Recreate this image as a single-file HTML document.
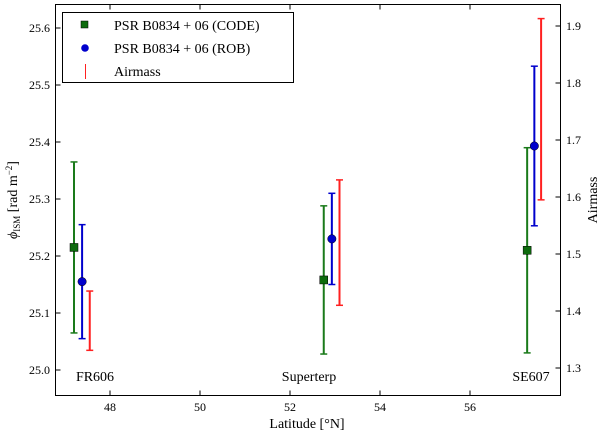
<!DOCTYPE html>
<html><head><meta charset="utf-8"><style>
html,body{margin:0;padding:0;background:#fff;}
svg text{font-family:"Liberation Serif","DejaVu Serif",serif;fill:#000;}
</style></head><body>
<svg id="chart" width="600" height="434" xmlns="http://www.w3.org/2000/svg">
<rect width="600" height="434" fill="#fff"/>
<g id="marks"></g>
<g id="axes"></g>
</svg>
<script>
const stations = ["FR606", "Superterp", "SE607"];
const codeLat = [47.2, 52.75, 57.27];
const codeVal = [25.215, 25.158, 25.21];
const codeErr = [0.15, 0.13, 0.18];
const robLat = [47.38, 52.93, 57.43];
const robVal = [25.155, 25.23, 25.393];
const robErr = [0.1, 0.08, 0.14];
const airLat = [47.55, 53.1, 57.58];
const airVal = [1.383, 1.52, 1.754];
const airErr = [0.052, 0.11, 0.159];
const xTicks = [48, 50, 52, 54, 56];
const yTicks = [25.0, 25.1, 25.2, 25.3, 25.4, 25.5, 25.6];
const y2Ticks = [1.3, 1.4, 1.5, 1.6, 1.7, 1.8, 1.9];

const L=55.5, R=560.5, T=4.5, B=395.5;
const sx = v => 110 + (v-48)*45;
const sy = v => 370 - (v-25.0)*570;
const sy2 = v => 368 - (v-1.3)*570;
const NS="http://www.w3.org/2000/svg";
function mk(tag, attrs, parent, text){
  const e=document.createElementNS(NS,tag);
  for(const k in attrs) e.setAttribute(k, attrs[k]);
  if(text!==undefined) e.textContent=text;
  parent.appendChild(e); return e;
}
const marks=document.getElementById('marks');
const axes=document.getElementById('axes');

function errbar(x, yc, ylo, yhi, color, name){
  const g=mk('g',{},marks);
  
  
  mk('line',{x1:x,x2:x,y1:ylo,y2:yhi,stroke:color,'stroke-width':2},g);
  mk('line',{x1:x-3.5,x2:x+3.5,y1:ylo,y2:ylo,stroke:color,'stroke-width':1.5},g);
  mk('line',{x1:x-3.5,x2:x+3.5,y1:yhi,y2:yhi,stroke:color,'stroke-width':1.5},g);
  return g;
}
for(let i=0;i<stations.length;i++){
  let x=sx(codeLat[i]);
  let g=errbar(x,sy(codeVal[i]),sy(codeVal[i]-codeErr[i]),sy(codeVal[i]+codeErr[i]),'#1a7a1a','code-errorbar-'+i);
  const r=mk('rect',{x:x-4,y:sy(codeVal[i])-4,width:8,height:8,fill:'#0d6b0d',stroke:'#000','stroke-width':0.5},g);
  
  
  x=sx(robLat[i]);
  g=errbar(x,sy(robVal[i]),sy(robVal[i]-robErr[i]),sy(robVal[i]+robErr[i]),'#0000cc','rob-errorbar-'+i);
  const c=mk('circle',{cx:x,cy:sy(robVal[i]),r:4.2,fill:'#0000cc',stroke:'#000','stroke-width':0.5},g);
  
  
  x=sx(airLat[i]);
  errbar(x,sy2(airVal[i]),sy2(airVal[i]-airErr[i]),sy2(airVal[i]+airErr[i]),'#ff2020','airmass-errorbar-'+i);
}
// station labels
const labX=[95, 309, 531];
for(let i=0;i<stations.length;i++){
  const t=mk('text',{x:labX[i],y:381,'font-size':14,'text-anchor':'middle'},axes,stations[i]);
  
  
}
// frame
const fr=mk('rect',{x:L,y:T,width:R-L,height:B-T,fill:'none',stroke:'#000','stroke-width':1},axes);


xTicks.forEach(v=>{
  const x=sx(v);
  mk('line',{x1:x,x2:x,y1:B,y2:B-5,stroke:'#000'},axes);
  mk('line',{x1:x,x2:x,y1:T,y2:T+5,stroke:'#000'},axes);
  const t=mk('text',{x:x,y:411,'font-size':12,'text-anchor':'middle'},axes,String(v));
  
  
});
yTicks.forEach(v=>{
  const y=sy(v);
  mk('line',{x1:L,x2:L+5,y1:y,y2:y,stroke:'#000'},axes);
  const t=mk('text',{x:50,y:y+4,'font-size':12,'text-anchor':'end'},axes,v.toFixed(1));
  
  
});
y2Ticks.forEach(v=>{
  const y=sy2(v);
  mk('line',{x1:R,x2:R-5,y1:y,y2:y,stroke:'#000'},axes);
  const t=mk('text',{x:566,y:y+4,'font-size':12},axes,v.toFixed(1));
  
  
});
</script>
<svg style="position:absolute;left:0;top:0" width="600" height="434" xmlns="http://www.w3.org/2000/svg">
<text x="307" y="428" font-size="14" text-anchor="middle">Latitude [°N]</text>
<text transform="translate(17,200) rotate(-90)" font-size="14" text-anchor="middle"><tspan font-style="italic">ϕ</tspan><tspan font-size="9" dy="3">ISM</tspan><tspan dy="-3"> [rad m</tspan><tspan font-size="9" dy="-5">−2</tspan><tspan dy="5">]</tspan></text>
<text transform="translate(597,200) rotate(-90)" font-size="14" text-anchor="middle">Airmass</text>
<g>
<rect x="62.5" y="12.5" width="231" height="70" fill="#fff" stroke="#000" stroke-width="1"/>
<rect x="81" y="21" width="7" height="7" fill="#0d6b0d" stroke="#000" stroke-width="0.5"/>
<text x="114" y="30" font-size="14">PSR B0834 + 06 (CODE)</text>
<circle cx="85" cy="48" r="3.8" fill="#0000cc"/>
<text x="114" y="53" font-size="14">PSR B0834 + 06 (ROB)</text>
<line x1="85.5" x2="85.5" y1="64" y2="79" stroke="#ff2020" stroke-width="1"/>
<text x="114" y="76" font-size="14">Airmass</text>
</g>
</svg>
</body></html>
